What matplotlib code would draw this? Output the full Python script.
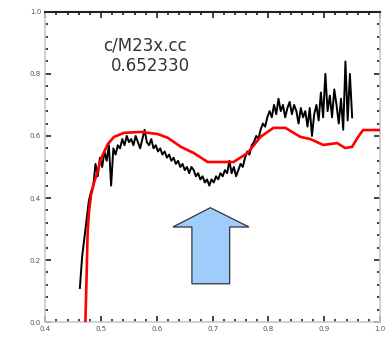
import numpy as np
import matplotlib
matplotlib.use("Agg")
import matplotlib.pyplot as plt
from matplotlib.patches import Polygon
from matplotlib.ticker import AutoMinorLocator

# observed spectrum, sampled every 0.004 from 0.462
obs_start, obs_step = 0.462, 0.004
obs_flux = [
    0.11, 0.21, 0.27, 0.33, 0.39, 0.42, 0.44, 0.51, 0.47, 0.53,
    0.50, 0.55, 0.52, 0.57, 0.44, 0.56, 0.54, 0.57, 0.56, 0.59,
    0.57, 0.60, 0.58, 0.59, 0.57, 0.60, 0.58, 0.56, 0.59, 0.62,
    0.58, 0.57, 0.59, 0.56, 0.57, 0.55, 0.56, 0.54, 0.55, 0.53,
    0.54, 0.52, 0.53, 0.51, 0.52, 0.50, 0.51, 0.49, 0.50, 0.48,
    0.50, 0.49, 0.47, 0.48, 0.46, 0.47, 0.45, 0.46, 0.44, 0.46,
    0.45, 0.47, 0.46, 0.48, 0.47, 0.49, 0.48, 0.52, 0.48, 0.50,
    0.47, 0.49, 0.51, 0.50, 0.53, 0.55, 0.54, 0.57, 0.58, 0.60,
    0.59, 0.62, 0.64, 0.63, 0.66, 0.68, 0.66, 0.70, 0.67, 0.72,
    0.68, 0.70, 0.66, 0.69, 0.71, 0.67, 0.70, 0.68, 0.64, 0.69,
    0.66, 0.68, 0.63, 0.69, 0.60, 0.67, 0.70, 0.65, 0.74, 0.66,
    0.80, 0.68, 0.73, 0.66, 0.75, 0.70, 0.64, 0.72, 0.62, 0.84,
    0.65, 0.80, 0.66,
]
obs_wave = obs_start + obs_step * np.arange(len(obs_flux))

# model spectrum
model_wave = [0.4714, 0.4741, 0.4759, 0.4786, 0.4821, 0.4875, 0.4929, 0.4973,
              0.5018, 0.5125, 0.5232, 0.5411, 0.5714, 0.6018, 0.6196, 0.6429,
              0.6661, 0.6911, 0.7143, 0.7375, 0.7625, 0.7857, 0.8089, 0.8304,
              0.8571, 0.8750, 0.8982, 0.9232, 0.9375, 0.9500, 0.9607, 0.9696,
              0.9875, 1.0]
model_flux = [-0.03, 0.15, 0.29, 0.36, 0.41, 0.45, 0.48, 0.51,
              0.535, 0.575, 0.597, 0.610, 0.613, 0.606, 0.594, 0.565,
              0.545, 0.516, 0.516, 0.516, 0.545, 0.597, 0.626, 0.626,
              0.597, 0.590, 0.571, 0.577, 0.561, 0.565, 0.597, 0.619,
              0.619, 0.619]

x_ticks = [0.4, 0.5, 0.6, 0.7, 0.8, 0.9, 1.0]
y_ticks = [0.0, 0.2, 0.4, 0.6, 0.8, 1.0]
label_lines = ["c/M23x.cc", "0.652330"]

fig = plt.figure(figsize=(3.87, 3.38), dpi=100)
ax = fig.add_axes([0.117, 0.047, 0.865, 0.918])

ax.plot(obs_wave, obs_flux, color="black", lw=1.4, zorder=2)
ax.plot(model_wave, model_flux, color="red", lw=1.9, zorder=3)

# block arrow pointing up at the dip
arrow_xy = [(0.6628, 0.1235), (0.7305, 0.1235), (0.7305, 0.3065),
            (0.7652, 0.3065), (0.6959, 0.3687), (0.6287, 0.3065),
            (0.6628, 0.3065)]
ax.add_patch(Polygon(arrow_xy, closed=True, facecolor="#9fcdfb",
                     edgecolor="#333333", lw=0.9, zorder=4))

ax.text(0.5035, 0.875, label_lines[0], fontsize=12, color="#333333")
ax.text(0.5180, 0.808, label_lines[1], fontsize=12, color="#333333")

ax.set_xlim(0.4, 1.0)
ax.set_ylim(0.0, 1.0)
ax.set_xticks(x_ticks)
ax.set_yticks(y_ticks)
ax.set_xticklabels([f"{v:.1f}" for v in x_ticks])
ax.set_yticklabels([f"{v:.1f}" for v in y_ticks])
ax.xaxis.set_minor_locator(AutoMinorLocator(5))
ax.yaxis.set_minor_locator(AutoMinorLocator(5))
ax.tick_params(which="both", direction="in", top=True, right=True,
               color="#222222", labelsize=5, labelcolor="#555555", pad=3)
ax.tick_params(which="major", length=4, width=1.2)
ax.tick_params(which="minor", length=2.5, width=1.2)

for side in ("left", "right", "bottom"):
    ax.spines[side].set_color("#c8c8c8")
    ax.spines[side].set_linewidth(1.2)
ax.spines["top"].set_color("#222222")
ax.spines["top"].set_linewidth(1.5)

fig.savefig("out.png", dpi=100)
